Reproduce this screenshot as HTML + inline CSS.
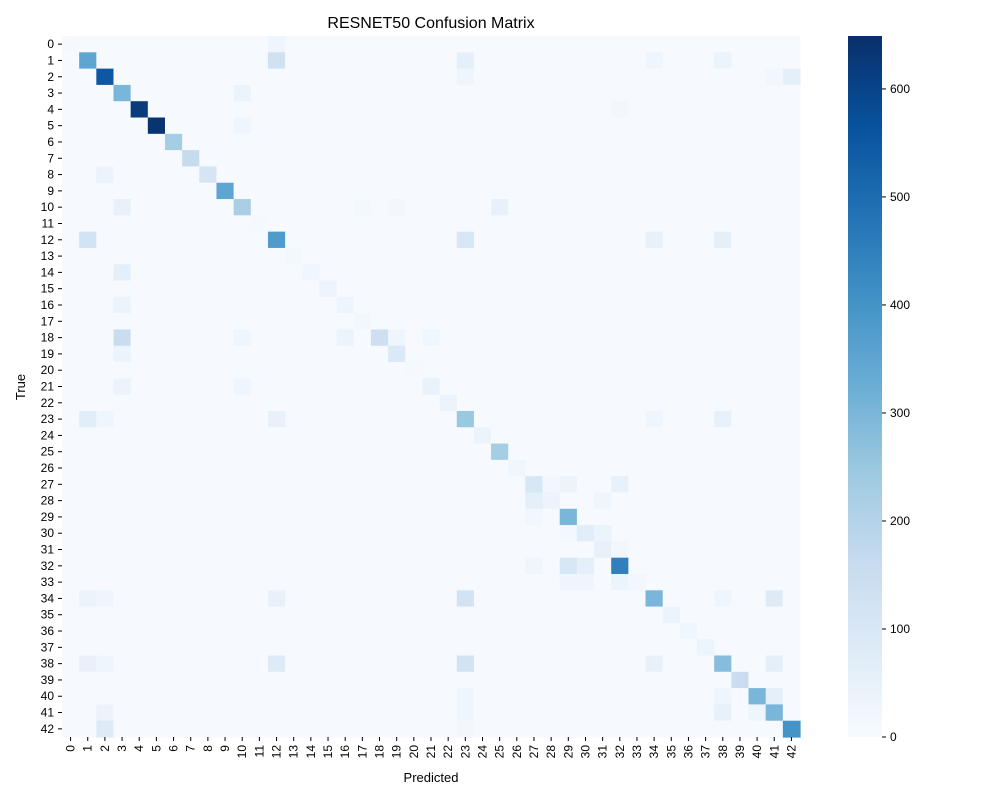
<!DOCTYPE html>
<html><head><meta charset="utf-8"><style>
body{margin:0;background:#fff;font-family:"Liberation Sans",sans-serif;}
svg text{font-family:"Liberation Sans",sans-serif;fill:#000;}
</style></head><body>
<svg id="chart" width="1000" height="800">
<defs><linearGradient id="cbgrad" x1="0" y1="1" x2="0" y2="0">
<stop offset="0" stop-color="#f7fbff"/><stop offset="0.125" stop-color="#deebf7"/><stop offset="0.25" stop-color="#c6dbef"/><stop offset="0.375" stop-color="#9ecae1"/><stop offset="0.5" stop-color="#6baed6"/><stop offset="0.625" stop-color="#4292c6"/><stop offset="0.75" stop-color="#2171b5"/><stop offset="0.875" stop-color="#08519c"/><stop offset="1" stop-color="#08306b"/></linearGradient></defs>
<text x="431" y="28" font-size="16" text-anchor="middle">RESNET50 Confusion Matrix</text>
<g id="cells"></g><g id="xt"></g><g id="yt"></g>
<text x="431" y="782" font-size="13" text-anchor="middle">Predicted</text>
<text transform="translate(25,387) rotate(-90)" font-size="13" text-anchor="middle">True</text>
<rect x="848" y="36" width="34" height="701" fill="url(#cbgrad)"/>
<g id="cbt"></g>
</svg>
<script>
const labels = Array.from({length:43},(_,i)=>String(i));
const diagValues = [8,350,550,300,620,640,230,160,110,350,220,12,380,15,25,35,35,20,140,90,12,45,40,250,40,230,25,100,30,300,70,50,450,20,300,40,25,35,280,150,300,300,400];
const offRows = [0,1,1,1,1,2,2,2,3,4,5,8,10,10,10,10,12,12,12,12,14,16,18,18,18,18,18,19,21,21,23,23,23,23,23,27,27,27,28,28,28,29,30,30,31,32,32,32,33,33,33,34,34,34,34,34,34,38,38,38,38,38,38,40,40,40,41,41,41,41,42,42];
const offCols = [12,12,23,34,38,23,42,41,10,32,10,2,3,25,17,19,1,23,34,38,3,3,3,10,16,19,21,3,3,10,1,2,12,34,38,29,32,28,27,28,31,27,31,29,32,29,30,27,29,30,32,1,2,12,23,41,38,1,2,12,23,34,41,23,41,38,2,38,23,40,2,23];
const offValues = [30,130,60,30,40,30,60,20,40,20,30,40,50,50,15,20,120,100,50,60,60,40,150,30,40,30,25,40,40,30,70,30,50,30,50,40,50,20,60,40,30,20,40,15,20,100,60,30,30,30,40,40,30,50,120,80,30,50,30,80,120,50,60,30,60,30,40,50,30,30,80,20];
const baseline = 3, vmax = 649;
const cbTicks = [0,100,200,300,400,500,600];
const X0=62,Y0=36,W=738,H=701,N=labels.length,cw=W/N,ch=H/N;
const stops=[[247,251,255],[222,235,247],[198,219,239],[158,202,225],[107,174,214],[66,146,198],[33,113,181],[8,81,156],[8,48,107]];
function color(v){let t=Math.max(0,Math.min(1,v/vmax))*8;let i=Math.min(7,Math.floor(t)),f=t-i;const a=stops[i],b=stops[i+1];return `rgb(${a.map((c,k)=>Math.round(c+(b[k]-c)*f)).join(',')})`;}
const M=labels.map(()=>labels.map(()=>baseline));
diagValues.forEach((v,i)=>M[i][i]=v);
offRows.forEach((r,k)=>M[r][offCols[k]]=offValues[k]);
const ns="http://www.w3.org/2000/svg";
const xs=i=>X0+i*cw, ys=i=>Y0+i*ch;
const g=document.getElementById('cells');
for(let r=0;r<N;r++)for(let c=0;c<N;c++){const e=document.createElementNS(ns,'rect');
e.setAttribute('x',xs(c));e.setAttribute('y',ys(r));e.setAttribute('width',cw+0.6);e.setAttribute('height',ch+0.6);e.setAttribute('fill',color(M[r][c]));


g.appendChild(e);}
const xt=document.getElementById('xt'),yt=document.getElementById('yt');
labels.forEach((l,i)=>{
let t=document.createElementNS(ns,'text');t.textContent=l;t.setAttribute('font-size','12');t.setAttribute('text-anchor','end');
t.setAttribute('transform',`translate(${xs(i)+cw/2+4},${Y0+H+8}) rotate(-90)`);


xt.appendChild(t);
let y=document.createElementNS(ns,'text');y.textContent=l;y.setAttribute('font-size','12');y.setAttribute('text-anchor','end');
y.setAttribute('x',X0-8);y.setAttribute('y',ys(i)+ch/2+4);


yt.appendChild(y);
let l1=document.createElementNS(ns,'line');l1.setAttribute('x1',xs(i)+cw/2);l1.setAttribute('x2',xs(i)+cw/2);l1.setAttribute('y1',Y0+H);l1.setAttribute('y2',Y0+H+4);l1.setAttribute('stroke','#000');


xt.appendChild(l1);
let l2=document.createElementNS(ns,'line');l2.setAttribute('x1',X0-4);l2.setAttribute('x2',X0);l2.setAttribute('y1',ys(i)+ch/2);l2.setAttribute('y2',ys(i)+ch/2);l2.setAttribute('stroke','#000');


yt.appendChild(l2);
});
const cb=document.getElementById('cbt');
cbTicks.forEach(v=>{const y=737-v/vmax*701;
let l=document.createElementNS(ns,'line');l.setAttribute('x1',882);l.setAttribute('x2',886);l.setAttribute('y1',y);l.setAttribute('y2',y);l.setAttribute('stroke','#000');


cb.appendChild(l);
let t=document.createElementNS(ns,'text');t.textContent=v;t.setAttribute('x',890);t.setAttribute('y',y+4);t.setAttribute('font-size','12');


cb.appendChild(t);});
</script>
</body></html>
